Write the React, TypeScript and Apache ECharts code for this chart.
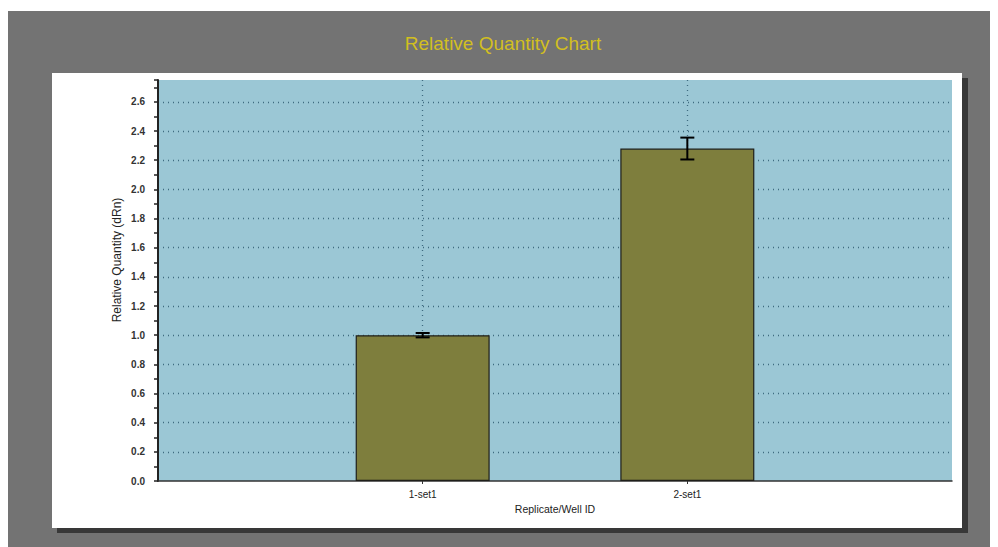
import React, { useEffect, useRef } from "react";
import * as echarts from "echarts";

const categories = ["1-set1", "2-set1"];
const values = [1.0, 2.28];
const errors = [0.015, 0.075];
const yMin = 0;
const yMax = 2.75;
const yInterval = 0.2;
const yAxisTitle = "Relative Quantity (dRn)";

const FONT = "Liberation Sans, Arial, Helvetica, sans-serif";

export default function App() {
  const ref = useRef<HTMLDivElement>(null);
  useEffect(() => {
    if (!ref.current) return;
    const chart = echarts.init(ref.current, undefined, { renderer: "svg" });
    const axisData = ["", ...categories, ""];
    const option: any = {
      animation: false,
      backgroundColor: "#ffffff",
      title: {
        text: "Relative Quantity Chart",
        left: "center",
        top: 21,
        textStyle: { color: "#d2bf1f", fontSize: 19, fontWeight: "normal", fontFamily: FONT },
      },
      graphic: [
        { type: "rect", z: -10, shape: { x: 0, y: 3, width: 990, height: 536 }, style: { fill: "#737373" }, silent: true },
        { type: "rect", z: -9, shape: { x: 49, y: 70, width: 911, height: 455 }, style: { fill: "#383838" }, silent: true },
        { type: "rect", z: -8, shape: { x: 44, y: 65, width: 910, height: 455 }, style: { fill: "#ffffff" }, silent: true },
        {
          type: "text",
          x: 109,
          y: 252,
          rotation: Math.PI / 2,
          style: {
            text: yAxisTitle,
            fill: "#222",
            fontSize: 12,
            fontFamily: "Liberation Sans Narrow, Liberation Sans, Arial, sans-serif",
            textAlign: "center",
            textVerticalAlign: "middle",
          },
        },
      ],
      grid: {
        left: 150,
        top: 72,
        right: 46,
        bottom: 66,
        show: true,
        backgroundColor: "#9bc7d5",
        borderWidth: 0,
      },
      xAxis: {
        type: "category",
        data: axisData,
        boundaryGap: false,
        name: "Replicate/Well ID",
        nameLocation: "middle",
        nameGap: 22,
        nameTextStyle: { color: "#222", fontSize: 10.5, fontFamily: FONT },
        axisLine: { lineStyle: { color: "#333", width: 1.5 } },
        axisTick: { show: true, length: 3, interval: (i: number) => i === 1 || i === 2, lineStyle: { color: "#333" } },
        axisLabel: { interval: 0, margin: 8, color: "#222", fontSize: 10, fontFamily: FONT },
        splitLine: {
          show: true,
          interval: (i: number) => i === 1 || i === 2,
          lineStyle: { color: "#3f6b80", type: [1, 4], width: 1.3 },
        },
      },
      yAxis: {
        type: "value",
        min: yMin,
        max: yMax,
        interval: yInterval,
        axisLine: { show: true, lineStyle: { color: "#222", width: 2 } },
        axisTick: { show: true, length: 4, lineStyle: { color: "#222", width: 1.5 } },
        minorTick: { show: true, splitNumber: 2, length: 4, lineStyle: { color: "#222", width: 1.5 } },
        axisLabel: {
          showMaxLabel: false,
          margin: 13,
          color: "#333",
          fontSize: 10,
          fontWeight: "bold",
          fontFamily: FONT,
          formatter: (v: number) => v.toFixed(1),
        },
        splitLine: {
          show: true,
          showMaxLine: false,
          showMinLine: false,
          lineStyle: { color: "#3f6b80", type: [1, 4], width: 1.3 },
        },
      },
      series: [
        {
          type: "bar",
          data: values.map((v, i) => [i + 1, v]),
          barWidth: 134,
          itemStyle: { color: "#7e7e3d", borderColor: "#1f1f1a", borderWidth: 1.2 },
        },
        {
          type: "custom",
          data: values.map((v, i) => [i + 1, v - errors[i], v + errors[i]]),
          encode: { x: 0, y: [1, 2] },
          z: 5,
          renderItem: (params: any, api: any) => {
            const x = api.value(0);
            const lo = api.coord([x, api.value(1)]);
            const hi = api.coord([x, api.value(2)]);
            const w = 7;
            const st = { stroke: "#000", lineWidth: 2 };
            return {
              type: "group",
              children: [
                { type: "line", shape: { x1: lo[0], y1: lo[1], x2: hi[0], y2: hi[1] }, style: st },
                { type: "line", shape: { x1: hi[0] - w, y1: hi[1], x2: hi[0] + w, y2: hi[1] }, style: st },
                { type: "line", shape: { x1: lo[0] - w, y1: lo[1], x2: lo[0] + w, y2: lo[1] }, style: st },
              ],
            };
          },
        },
      ],
    };
    chart.setOption(option);
    return () => chart.dispose();
  }, []);
  return <div ref={ref} style={{ width: 990, height: 539 }} />;
}
